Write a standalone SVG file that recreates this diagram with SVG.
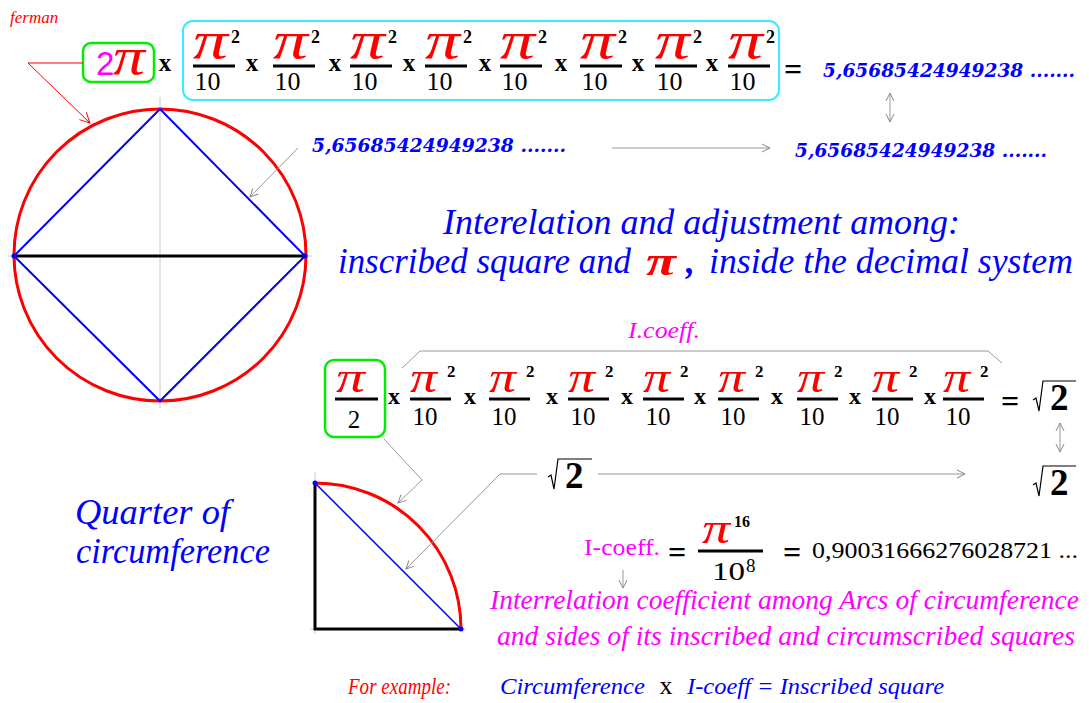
<svg xmlns="http://www.w3.org/2000/svg" width="1089" height="703" viewBox="0 0 1089 703">
<style>
.s{font-family:"Liberation Serif",serif}
.pi{font-family:"Liberation Serif",serif;font-style:italic;fill:#ff0000}
.b{font-weight:bold}
.it{font-style:italic}
.num{font-family:"DejaVu Serif",serif;font-weight:bold;font-style:italic;fill:#0000ff}
.blue{fill:#0000ff}
.mag{fill:#ff00ff}
.red{fill:#ff0000}
.gl{fill:none;stroke:#999;stroke-width:1}
.ax{stroke:#c8c8c8;stroke-width:1}
</style>
<defs>
<marker id="ag" markerWidth="12" markerHeight="12" refX="10" refY="6" orient="auto" markerUnits="userSpaceOnUse">
<path d="M2,2 L10,6 L2,10" fill="none" stroke="#888" stroke-width="1"/>
</marker>
<marker id="ags" markerWidth="12" markerHeight="12" refX="10" refY="6" orient="auto-start-reverse" markerUnits="userSpaceOnUse">
<path d="M2,2 L10,6 L2,10" fill="none" stroke="#888" stroke-width="1"/>
</marker>
<marker id="ar" markerWidth="14" markerHeight="14" refX="12" refY="7" orient="auto" markerUnits="userSpaceOnUse">
<path d="M2,2 L12,7 L2,12" fill="none" stroke="#ff0000" stroke-width="1"/>
</marker>
<g id="fT">
<text class="pi" x="0" y="-8" font-size="52" textLength="35" lengthAdjust="spacingAndGlyphs">π</text>
<text class="s b" x="38" y="-23" font-size="18">2</text>
<rect x="0" y="-1.5" width="42" height="3" fill="#000"/>
<text class="s" x="14.5" y="24" font-size="26" text-anchor="middle">10</text>
</g>
<g id="fL">
<text class="pi" x="0" y="-7" font-size="44" textLength="27" lengthAdjust="spacingAndGlyphs">π</text>
<text class="s b" x="37" y="-22" font-size="17">2</text>
<rect x="0" y="-1.5" width="41" height="3" fill="#000"/>
<text class="s" x="15" y="26" font-size="25" text-anchor="middle">10</text>
</g>
</defs>
<rect width="1089" height="703" fill="#fff"/>

<g id="author"><text class="s it red" x="10" y="23" font-size="17">ferman</text></g>

<g id="circle-figure">
<line class="ax" x1="160" y1="97" x2="160" y2="408"/>
<line class="ax" x1="8" y1="256" x2="312" y2="256"/>
<circle cx="160" cy="255" r="146" fill="none" stroke="#ff0000" stroke-width="3"/>
<polygon points="160,109 305,256 160,401 14,256" fill="none" stroke="#0000ff" stroke-width="2"/>
<line x1="14" y1="256" x2="305" y2="256" stroke="#000" stroke-width="3"/>
<circle cx="14" cy="256" r="2.5" fill="#0000ff"/>
<circle cx="305" cy="256" r="2.5" fill="#0000ff"/>
</g>

<g id="top-formula">
<rect x="83" y="43" width="71" height="39" rx="8" fill="none" stroke="#00ee00" stroke-width="2.5"/>
<text x="96" y="75" font-family="Liberation Sans, sans-serif" font-size="33" class="mag">2</text>
<text class="pi" x="113" y="74" font-size="52" textLength="32" lengthAdjust="spacingAndGlyphs">π</text>
<text class="s b" x="165" y="71" font-size="25" text-anchor="middle">x</text>
<rect x="183" y="21" width="596" height="79" rx="10" fill="none" stroke="#33eeff" stroke-width="2"/>
<use href="#fT" x="193" y="66"/>
<use href="#fT" x="273" y="66"/>
<use href="#fT" x="350" y="66"/>
<use href="#fT" x="425" y="66"/>
<use href="#fT" x="500" y="66"/>
<use href="#fT" x="580" y="66"/>
<use href="#fT" x="655" y="66"/>
<use href="#fT" x="728" y="66"/>
<text class="s b" font-size="25" text-anchor="middle" y="71"><tspan x="252">x</tspan><tspan x="335">x</tspan><tspan x="409">x</tspan><tspan x="485">x</tspan><tspan x="561">x</tspan><tspan x="638">x</tspan><tspan x="712">x</tspan></text>
<text class="s b" x="793" y="80" font-size="32" text-anchor="middle">=</text>
<text class="num" x="823" y="77" font-size="18.5" textLength="252" lengthAdjust="spacingAndGlyphs">5,65685424949238 .......</text>
</g>

<g id="value-mid">
<text class="num" x="312" y="152" font-size="18.5" textLength="254" lengthAdjust="spacingAndGlyphs">5,65685424949238 .......</text>
</g>
<g id="value-right">
<text class="num" x="795" y="157" font-size="18.5" textLength="252" lengthAdjust="spacingAndGlyphs">5,65685424949238 .......</text>
</g>

<g id="title">
<text class="s it blue" x="443" y="234" font-size="35" textLength="517" lengthAdjust="spacingAndGlyphs">Interelation and adjustment among:</text>
<text class="s it blue" x="338" y="273" font-size="35" textLength="293" lengthAdjust="spacingAndGlyphs">inscribed square and</text>
<text class="s b it red" x="646" y="275" font-size="42" textLength="30" lengthAdjust="spacingAndGlyphs">π</text>
<text class="s b it blue" x="686" y="273" font-size="35">,</text>
<text class="s it blue" x="709" y="273" font-size="35" textLength="364" lengthAdjust="spacingAndGlyphs">inside the decimal system</text>
</g>

<g id="lower-formula">
<text class="s it mag" x="628" y="338" font-size="24" textLength="72" lengthAdjust="spacingAndGlyphs">I.coeff.</text>
<rect x="325" y="360" width="60" height="77" rx="9" fill="none" stroke="#00ee00" stroke-width="2.5"/>
<text class="pi" x="336" y="392" font-size="44" textLength="29" lengthAdjust="spacingAndGlyphs">π</text>
<rect x="335" y="397.5" width="43" height="3" fill="#000"/>
<text class="s" x="354" y="428" font-size="25" text-anchor="middle">2</text>
<use href="#fL" x="410" y="399"/>
<use href="#fL" x="489" y="399"/>
<use href="#fL" x="568" y="399"/>
<use href="#fL" x="643" y="399"/>
<use href="#fL" x="718" y="399"/>
<use href="#fL" x="797" y="399"/>
<use href="#fL" x="872" y="399"/>
<use href="#fL" x="943" y="399"/>
<text class="s b" font-size="24" text-anchor="middle" y="404"><tspan x="394">x</tspan><tspan x="470">x</tspan><tspan x="552">x</tspan><tspan x="627">x</tspan><tspan x="700">x</tspan><tspan x="777">x</tspan><tspan x="855">x</tspan><tspan x="930">x</tspan></text>
<text class="s b" x="1010" y="412" font-size="32" text-anchor="middle">=</text>
</g>

<g id="sqrt2-right">
<path d="M1033,400 L1036,398 L1039,411 L1043,381 L1076,381" fill="none" stroke="#000" stroke-width="1.2"/>
<text class="s b" x="1050" y="410" font-size="37">2</text>
</g>
<g id="sqrt2-right2">
<path d="M1033,485 L1036,483 L1039,496 L1043,466 L1076,466" fill="none" stroke="#000" stroke-width="1.2"/>
<text class="s b" x="1050" y="495" font-size="37">2</text>
</g>
<g id="sqrt2-mid">
<path d="M548,477 L551,475 L554,489 L558,459 L592,459" fill="none" stroke="#000" stroke-width="1.2"/>
<text class="s b" x="565" y="488" font-size="37">2</text>
</g>

<g id="quarter-figure">
<line class="ax" x1="315" y1="472" x2="315" y2="634"/>
<line class="ax" x1="310" y1="629" x2="466" y2="629"/>
<path d="M315,483 A146,146 0 0 1 461,629" fill="none" stroke="#ff0000" stroke-width="3"/>
<line x1="315" y1="483" x2="461" y2="629" stroke="#0000ff" stroke-width="1.5"/>
<polyline points="315,483 315,629 461,629" fill="none" stroke="#000" stroke-width="3"/>
<circle cx="315" cy="483" r="2.5" fill="#0000ff"/>
<circle cx="461" cy="629" r="2.5" fill="#0000ff"/>
</g>

<g id="quarter-label">
<text class="s it blue" x="75" y="524" font-size="35" textLength="155" lengthAdjust="spacingAndGlyphs">Quarter of</text>
<text class="s it blue" x="76" y="563" font-size="35" textLength="194" lengthAdjust="spacingAndGlyphs">circumference</text>
</g>

<g id="icoeff">
<text class="s mag" x="584" y="555" font-size="23" textLength="76" lengthAdjust="spacingAndGlyphs">I-coeff.</text>
<text class="s b" x="677" y="563" font-size="32" text-anchor="middle">=</text>
<text class="pi" x="702" y="543" font-size="44" textLength="28" lengthAdjust="spacingAndGlyphs">π</text>
<text class="s b" x="734" y="527" font-size="16">16</text>
<rect x="698" y="549.5" width="65" height="3" fill="#000"/>
<text class="s" x="712" y="580" font-size="26" textLength="33" lengthAdjust="spacingAndGlyphs">10</text>
<text class="s" x="746" y="572" font-size="19">8</text>
<text class="s b" x="792" y="563" font-size="32" text-anchor="middle">=</text>
<text class="s" x="812" y="558" font-size="23" textLength="266" lengthAdjust="spacingAndGlyphs">0,90031666276028721 ...</text>
</g>

<g id="explanation">
<text class="s it mag" x="490" y="609" font-size="27" textLength="589" lengthAdjust="spacingAndGlyphs">Interrelation coefficient among Arcs of circumference</text>
<text class="s it mag" x="497" y="645" font-size="27" textLength="578" lengthAdjust="spacingAndGlyphs">and sides of its inscribed and circumscribed squares</text>
</g>

<g id="example">
<text class="s it red" x="348" y="694" font-size="24" textLength="103" lengthAdjust="spacingAndGlyphs">For example:</text>
<text class="s it blue" x="500" y="694" font-size="24" textLength="145" lengthAdjust="spacingAndGlyphs">Circumference</text>
<text class="s" x="666" y="694" font-size="26" text-anchor="middle">x</text>
<text class="s it blue" x="687" y="694" font-size="24" textLength="257" lengthAdjust="spacingAndGlyphs">I-coeff = Inscribed square</text>
</g>

<g id="connectors">
<polyline points="83,63 28,63 90,123" fill="none" stroke="#ff0000" stroke-width="1" marker-end="url(#ar)"/>
<line class="gl" x1="298" y1="148" x2="250" y2="197" marker-end="url(#ag)"/>
<line class="gl" x1="612" y1="148" x2="770" y2="148" marker-end="url(#ag)"/>
<line class="gl" x1="890" y1="93" x2="890" y2="122" marker-start="url(#ags)" marker-end="url(#ags)"/>
<polyline class="gl" points="402,368 420,351 988,351 1002,363"/>
<line class="gl" x1="1060" y1="423" x2="1060" y2="452" marker-start="url(#ags)" marker-end="url(#ags)"/>
<line class="gl" x1="598" y1="474" x2="965" y2="474" marker-end="url(#ag)"/>
<polyline class="gl" points="537,474 500,474 406,569" marker-end="url(#ag)"/>
<polyline class="gl" points="384,439 422,480 398,503" marker-end="url(#ag)"/>
<line class="gl" x1="623" y1="570" x2="623" y2="588" marker-end="url(#ag)"/>
</g>
</svg>
